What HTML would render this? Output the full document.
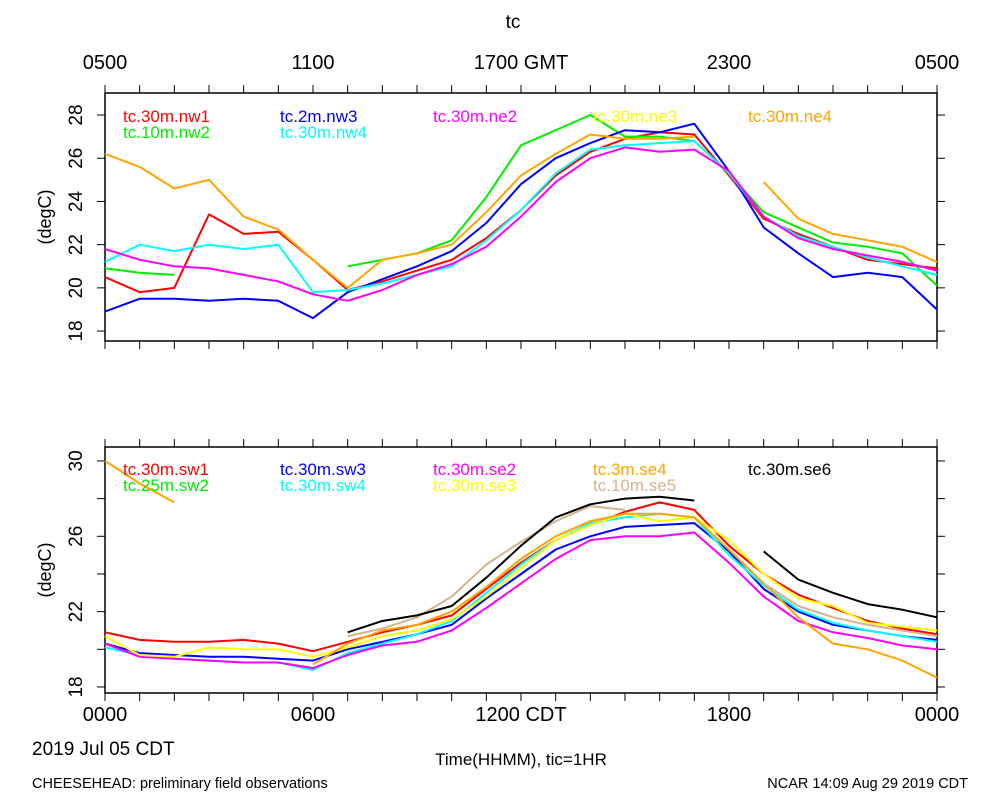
<!DOCTYPE html>
<html><head><meta charset="utf-8">
<style>
html,body{margin:0;padding:0;background:#fff;}
svg text{font-family:"Liberation Sans",sans-serif;}
</style></head>
<body>
<svg id="chart" width="1000" height="800" viewBox="0 0 1000 800" xmlns="http://www.w3.org/2000/svg">
<text x="513" y="28" font-size="19" text-anchor="middle">tc</text>
<text x="32" y="755" font-size="19">2019 Jul 05 CDT</text>
<text x="521" y="765" font-size="17" text-anchor="middle">Time(HHMM), tic=1HR</text>
<text x="32" y="788" font-size="14.5">CHEESEHEAD: preliminary field observations</text>
<text x="968" y="788" font-size="14.5" text-anchor="end">NCAR 14:09 Aug 29 2019 CDT</text>
<g id="top"></g>
<g id="bot"></g>
</svg>
<script>
const hours=[0,1,2,3,4,5,6,7,8,9,10,11,12,13,14,15,16,17,18,19,20,21,22,23,24];
const topTicks=[18,20,22,24,26,28];
const botTicks=[18,22,26,30];
const botMinor=[20,24,28];
const topXLabels=["0500","1100","1700 GMT","2300","0500"];
const botXLabels=["0000","0600","1200 CDT","1800","0000"];
const topNames=["tc.30m.nw1","tc.10m.nw2","tc.2m.nw3","tc.30m.nw4","tc.30m.ne2","tc.30m.ne3","tc.30m.ne4"];
const botNames=["tc.30m.sw1","tc.25m.sw2","tc.30m.sw3","tc.30m.sw4","tc.30m.se2","tc.30m.se3","tc.3m.se4","tc.10m.se5","tc.30m.se6"];
const N=null;
const nw1=[20.5,19.8,20.0,23.4,22.5,22.6,21.3,19.9,20.3,20.8,21.3,22.3,23.6,25.2,26.3,26.9,27.2,27.1,25.2,23.2,22.5,21.9,21.3,21.1,20.9];
const nw2=[20.9,20.7,20.6,N,N,N,N,21.0,21.3,21.6,22.2,24.2,26.6,27.3,28.0,27.0,27.0,26.8,25.3,23.5,22.8,22.1,21.9,21.6,20.1];
const nw3=[18.9,19.5,19.5,19.4,19.5,19.4,18.6,19.8,20.4,21.0,21.7,23.0,24.8,26.0,26.7,27.3,27.2,27.6,25.4,22.8,21.6,20.5,20.7,20.5,19.0];
const nw4=[21.2,22.0,21.7,22.0,21.8,22.0,19.8,19.9,20.2,20.6,21.0,22.2,23.6,25.3,26.4,26.6,26.7,26.8,25.3,23.3,22.4,21.9,21.4,21.0,20.6];
const ne2=[21.8,21.3,21.0,20.9,20.6,20.3,19.7,19.4,19.9,20.6,21.1,21.9,23.3,24.9,26.0,26.5,26.3,26.4,25.4,23.3,22.3,21.8,21.5,21.2,20.8];
const ne3=[N,N,N,N,N,N,N,N,N,N,N,N,N,N,N,N,N,N,N,N,N,N,N,N,N];
const ne4=[26.2,25.6,24.6,25.0,23.3,22.7,21.3,20.0,21.3,21.6,22.0,23.5,25.2,26.2,27.1,26.9,26.9,27.0,N,24.9,23.2,22.5,22.2,21.9,21.2];
const sw1=[20.9,20.5,20.4,20.4,20.5,20.3,19.9,20.4,20.9,21.3,21.8,23.2,24.6,25.8,26.6,27.3,27.8,27.4,25.5,24.0,22.9,22.2,21.5,21.1,20.8];
const sw2=[N,N,N,N,N,N,N,N,N,N,N,N,N,N,N,N,N,N,N,N,N,N,N,N,N];
const sw3=[20.3,19.8,19.7,19.6,19.6,19.5,19.4,20.0,20.4,20.8,21.3,22.7,24.0,25.3,26.0,26.5,26.6,26.7,25.2,23.2,22.0,21.3,21.0,20.7,20.5];
const sw4=[20.1,19.7,19.5,19.4,19.3,19.3,18.9,19.8,20.3,20.8,21.5,23.0,24.5,25.8,26.7,27.0,27.2,27.0,25.0,23.4,22.1,21.4,21.0,20.7,20.4];
const se2=[20.3,19.6,19.5,19.4,19.3,19.3,19.0,19.7,20.2,20.4,21.0,22.2,23.5,24.8,25.8,26.0,26.0,26.2,24.6,22.8,21.5,20.9,20.6,20.2,20.0];
const se3=[20.7,19.7,19.6,20.1,20.0,20.0,19.6,20.1,20.7,21.0,21.6,22.8,24.3,25.8,26.6,27.2,26.8,27.0,25.8,24.0,22.7,22.3,21.4,21.2,21.0];
const se4=[30.0,28.8,27.8,N,N,N,19.2,20.3,21.0,21.3,22.0,23.3,24.8,26.0,26.8,27.2,27.2,27.0,25.3,23.5,21.7,20.3,20.0,19.4,18.5];
const se5=[N,N,N,N,N,N,N,20.7,21.1,21.7,22.8,24.5,25.7,26.8,27.6,27.4,N,N,N,23.5,22.3,21.7,21.3,21.0,20.7];
const se6=[N,N,N,N,N,N,N,20.9,21.5,21.8,22.3,23.8,25.5,27.0,27.7,28.0,28.1,27.9,N,25.2,23.7,23.0,22.4,22.1,21.7];
const topSeries=[nw1,nw2,nw3,nw4,ne2,ne3,ne4];
const botSeries=[sw1,sw2,sw3,sw4,se2,se3,se4,se5,se6];
const topColors=["#ff0000","#00ee00","#0000ff","#00ffff","#ff00ff","#ffff00","#ffa500"];
const botColors=["#ff0000","#00ee00","#0000ff","#00ffff","#ff00ff","#ffff00","#ffa500","#d2b48c","#000000"];
const topLegSlots=[[0,0],[0,1],[1,0],[1,1],[2,0],[3,0],[4,0]];
const botLegSlots=[[0,0],[0,1],[1,0],[1,1],[2,0],[2,1],[3,0],[3,1],[4,0]];

const NS="http://www.w3.org/2000/svg";
const X0=105,X1=937;
function xs(h){return X0+(X1-X0)*h/24;}
function mk(p,tag,at){const e=document.createElementNS(NS,tag);for(const k in at)e.setAttribute(k,at[k]);p.appendChild(e);return e;}

function panel(g,y0,y1,vTop,vBot,ticks,minor,xlab,xlabY,names,series,colors,slots,legY,pname){
  const ys=v=>y0+(vTop-v)*(y1-y0)/(vTop-vBot);
  const box=mk(g,'rect',{x:X0,y:y0,width:X1-X0,height:y1-y0,fill:'none',stroke:'#000','stroke-width':1.5});
  
  
  for(let h=0;h<=24;h++){
    const x=xs(h);
    const t1=mk(g,'line',{x1:x,x2:x,y1:y0,y2:y0-8,stroke:'#000','stroke-width':1});
    
    
    const t2=mk(g,'line',{x1:x,x2:x,y1:y1,y2:y1+8,stroke:'#000','stroke-width':1});
    
    
  }
  xlab.forEach((s,i)=>{
    const t=mk(g,'text',{x:xs(i*6),y:xlabY,'font-size':20,'text-anchor':'middle'});
    t.textContent=s;
    
    
  });
  ticks.forEach(v=>{
    const y=ys(v);
    const a=mk(g,'line',{x1:X0-8,x2:X0,y1:y,y2:y,stroke:'#000'});
    
    
    const b=mk(g,'line',{x1:X1,x2:X1+8,y1:y,y2:y,stroke:'#000'});
    
    
    const t=mk(g,'text',{x:0,y:0,'font-size':19,'text-anchor':'middle',transform:`translate(82,${y}) rotate(-90)`});
    t.textContent=v;
    
    
  });
  minor.forEach(v=>{
    const y=ys(v);
    const a=mk(g,'line',{x1:X0-8,x2:X0,y1:y,y2:y,stroke:'#000'});
    
    
    const b=mk(g,'line',{x1:X1,x2:X1+8,y1:y,y2:y,stroke:'#000'});
    
    
  });
  const yt=mk(g,'text',{x:0,y:0,'font-size':18,'text-anchor':'middle',transform:`translate(51,${(y0+y1)/2}) rotate(-90)`});
  yt.textContent='(degC)';
  
  
  series.forEach((arr,si)=>{
    let d='',pen=false;
    arr.forEach((v,i)=>{
      if(v===null){pen=false;return;}
      d+=(pen?'L':'M')+xs(hours[i]).toFixed(1)+' '+ys(v).toFixed(1)+' ';
      pen=true;
    });
    if(d){
      const p=mk(g,'path',{d:d,fill:'none',stroke:colors[si],'stroke-width':2,'stroke-linejoin':'round'});
      
      
    }
  });
  const cols=[123,280,433,593,748];
  names.forEach((n,i)=>{
    const c=slots[i][0],r=slots[i][1];
    const t=mk(g,'text',{x:cols[c],y:legY+r*16,'font-size':17,fill:colors[i]});
    t.textContent=n;
    
    
  });
}
panel(document.getElementById('top'),93,341,29.02,17.54,topTicks,[],topXLabels,69,topNames,topSeries,topColors,topLegSlots,122,'top-panel');
panel(document.getElementById('bot'),447,693,30.74,17.68,botTicks,botMinor,botXLabels,721,botNames,botSeries,botColors,botLegSlots,475,'bottom-panel');
</script>
</body></html>
